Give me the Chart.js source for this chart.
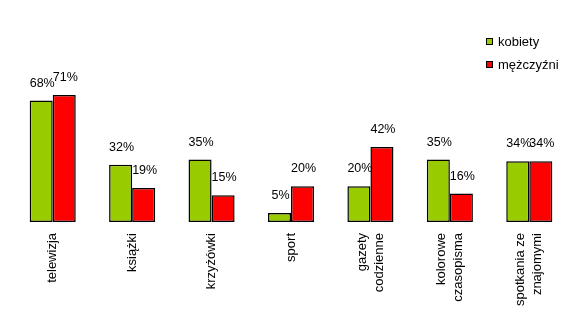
<!DOCTYPE html>
<html>
<head>
<meta charset="utf-8">
<script src="https://cdn.jsdelivr.net/npm/chart.js@4/dist/chart.umd.min.js"></script>
<style>
  html, body { margin: 0; padding: 0; background: #ffffff; }
  #wrap { width: 585px; height: 330px; }
</style>
</head>
<body>
<div id="wrap"><canvas id="c" width="585" height="330"></canvas></div>
<script>
// Categories (multi-line where the label wraps)
const categories = [
  'telewizja',
  'książki',
  'krzyżówki',
  'sport',
  ['gazety', 'codzienne'],
  ['kolorowe', 'czasopisma'],
  ['spotkania ze', 'znajomymi']
];
const seriesNames = ['kobiety', 'mężczyźni'];
const kobiety = [68, 32, 35, 5, 20, 35, 34];
const mezczyzni = [71, 19, 15, 20, 42, 16, 34];
const seriesColors = ['#99CC00', '#FF0000'];

const FONT = '"Liberation Sans", Arial, sans-serif';

// Percent labels above each bar
const valueLabels = {
  id: 'valueLabels',
  afterDatasetsDraw(chart) {
    const ctx = chart.ctx;
    ctx.save();
    ctx.font = '12.5px ' + FONT;
    ctx.fillStyle = '#000';
    ctx.textAlign = 'center';
    ctx.textBaseline = 'bottom';
    chart.data.datasets.forEach((ds, di) => {
      const meta = chart.getDatasetMeta(di);
      meta.data.forEach((bar, i) => {
        ctx.fillText(ds.data[i] + '%', bar.x + 1, bar.y - 11);
      });
    });
    ctx.restore();
  }
};

// Vertical category labels, lines centred on each category position
const verticalCategoryLabels = {
  id: 'verticalCategoryLabels',
  afterDraw(chart) {
    const ctx = chart.ctx;
    const xs = chart.scales.x;
    const top = chart.chartArea.bottom + 11;
    const lh = 17;
    ctx.save();
    ctx.font = '13px ' + FONT;
    ctx.fillStyle = '#000';
    ctx.textAlign = 'right';
    ctx.textBaseline = 'middle';
    chart.data.labels.forEach((lab, i) => {
      const lines = Array.isArray(lab) ? lab : [lab];
      const cx = xs.getPixelForTick(i);
      lines.forEach((line, j) => {
        const lx = cx + (j - (lines.length - 1) / 2) * lh;
        ctx.save();
        ctx.translate(lx, top);
        ctx.rotate(-Math.PI / 2);
        ctx.fillText(line, 0, 0);
        ctx.restore();
      });
    });
    ctx.restore();
  }
};

// Legend box in the upper right corner
const cornerLegend = {
  id: 'cornerLegend',
  afterDraw(chart) {
    const ctx = chart.ctx;
    ctx.save();
    ctx.font = '13px ' + FONT;
    ctx.textAlign = 'left';
    ctx.textBaseline = 'middle';
    chart.data.datasets.forEach((ds, i) => {
      const cy = 42 + i * 23;
      ctx.fillStyle = ds.backgroundColor;
      ctx.fillRect(486, cy - 4, 7, 7);
      ctx.strokeStyle = '#000';
      ctx.lineWidth = 1;
      ctx.strokeRect(486.5, cy - 3.5, 6, 6);
      ctx.fillStyle = '#000';
      ctx.fillText(ds.label, 498, cy);
    });
    ctx.restore();
  }
};

new Chart(document.getElementById('c'), {
  type: 'bar',
  data: {
    labels: categories,
    datasets: [
      { label: seriesNames[0], data: kobiety, backgroundColor: seriesColors[0] },
      { label: seriesNames[1], data: mezczyzni, backgroundColor: seriesColors[1] }
    ]
  },
  options: {
    responsive: false,
    devicePixelRatio: 1,
    animation: false,
    layout: { padding: { left: 13, right: 16, top: 79, bottom: 0 } },
    datasets: {
      bar: {
        borderColor: '#000',
        borderWidth: 1.5,
        borderSkipped: false,
        categoryPercentage: 0.58,
        barPercentage: 1
      }
    },
    plugins: {
      legend: { display: false },
      tooltip: { enabled: false }
    },
    scales: {
      y: { display: false, min: 0, max: 80 },
      x: {
        grid: { display: false },
        border: { display: false },
        afterFit(scale) { scale.height = 108; },
        ticks: { display: false }
      }
    }
  },
  plugins: [valueLabels, verticalCategoryLabels, cornerLegend]
});
</script>
</body>
</html>
